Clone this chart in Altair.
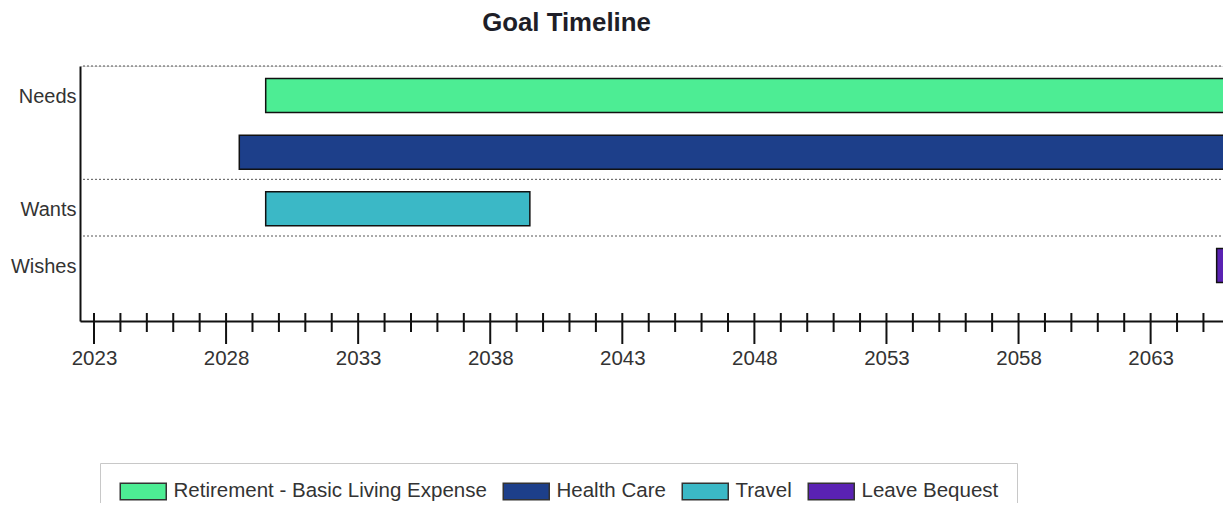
import altair as alt
import pandas as pd

# ---- data ----
goals = ["Retirement - Basic Living Expense", "Health Care", "Travel", "Leave Bequest"]
goal_groups = ["Needs", "Needs", "Wants", "Wishes"]
start_years = [2029.5, 2028.5, 2029.5, 2065.5]
end_years = [2066.0, 2066.0, 2039.5, 2068.0]
goal_colors = ["#4ded94", "#1d3f8a", "#3bb8c6", "#5a22b3"]

major_years = [2023, 2028, 2033, 2038, 2043, 2048, 2053, 2058, 2063]
all_years = list(range(2023, 2066))
minor_years = [y for y in all_years if y not in major_years]

X_DOMAIN = [2022.47, 2065.74]
Y_DOMAIN = [0, 4.5]
PLOT_W, PLOT_H = 1143, 255
FONT = "Liberation Sans"
TEXT = "#333333"

bars = pd.DataFrame({
    "goal": goals,
    "group": goal_groups,
    "start": start_years,
    "end": end_years,
    "slot": list(range(len(goals))),
})

# first slot of every group -> separators and labels
group_names, group_first = [], []
for i, g in enumerate(goal_groups):
    if g not in group_names:
        group_names.append(g)
        group_first.append(i)
seps = pd.DataFrame({"pos": group_first})
label_vals = [f + 0.53 for f in group_first]
label_expr = " : ".join(
    f"abs(datum.value - {v}) < 0.01 ? '{n}'" for v, n in zip(label_vals, group_names)
) + " : ''"

xscale = alt.Scale(domain=X_DOMAIN, nice=False, zero=False)
yscale = alt.Scale(domain=Y_DOMAIN, reverse=True, nice=False, zero=False)

x_axis = alt.Axis(
    values=major_years, ticks=False, grid=False, title=None,
    labelPadding=27, labelFontSize=20.5, labelFont=FONT, labelColor=TEXT,
    labelFlush=False, domainColor="#111111", domainWidth=2, format="d")
y_axis = alt.Axis(
    values=label_vals, labelExpr=label_expr, ticks=False, grid=False, title=None,
    labelPadding=4, labelFontSize=20, labelFont=FONT, labelColor=TEXT,
    domainColor="#111111", domainWidth=2)

bar_layer = alt.Chart(bars).transform_calculate(
    y0="datum.slot + 0.22", y1="datum.slot + 0.82"
).mark_bar(stroke="#111111", strokeWidth=1.5, clip=True).encode(
    x=alt.X("start:Q", scale=xscale, axis=x_axis),
    x2="end:Q",
    y=alt.Y("y0:Q", scale=yscale, axis=y_axis),
    y2="y1:Q",
    color=alt.Color("goal:N", scale=alt.Scale(domain=goals, range=goal_colors),
                    legend=alt.Legend(
                        title=None, orient="none", legendX=20, legendY=397,
                        direction="horizontal", columns=4, columnPadding=13,
                        symbolType="M-1,-1.04L4.75,-1.04L4.75,1.04L-1,1.04Z",
                        symbolSize=256, symbolStrokeColor="#333333",
                        symbolStrokeWidth=1.5, symbolOpacity=1,
                        labelFontSize=20.5, labelFont=FONT, labelColor=TEXT,
                        labelOffset=35, labelLimit=500, padding=18,
                        strokeColor="#c8c8c8", fillColor="white")),
)

sep_layer = alt.Chart(seps).mark_rule(
    color="#555555", strokeWidth=1, strokeDash=[2, 2]
).encode(
    y=alt.Y("pos:Q", scale=yscale, axis=y_axis),
    x=alt.value(3),
    x2=alt.value(PLOT_W),
)

minor_layer = alt.Chart(pd.DataFrame({"year": minor_years})).mark_rule(
    color="#111111", strokeWidth=2
).encode(
    x=alt.X("year:Q", scale=xscale, axis=x_axis),
    y=alt.value(PLOT_H - 8),
    y2=alt.value(PLOT_H + 11),
)

major_layer = alt.Chart(pd.DataFrame({"year": major_years})).mark_rule(
    color="#111111", strokeWidth=2
).encode(
    x=alt.X("year:Q", scale=xscale, axis=x_axis),
    y=alt.value(PLOT_H - 8),
    y2=alt.value(PLOT_H + 23),
)

chart = alt.layer(bar_layer, sep_layer, minor_layer, major_layer).properties(
    width=PLOT_W,
    height=PLOT_H,
    title=alt.TitleParams("Goal Timeline", fontSize=25.8, fontWeight="bold", font=FONT,
                          color="#1e1e28", anchor="middle", frame="group",
                          dx=-85, offset=29),
    autosize=alt.AutoSizeParams(type="none"),
    padding={"left": 72, "top": 58, "right": 0, "bottom": 182},
).configure_view(stroke=None).configure(background="white")

chart.save("out.html", embed_options={"renderer": "svg", "actions": False})
